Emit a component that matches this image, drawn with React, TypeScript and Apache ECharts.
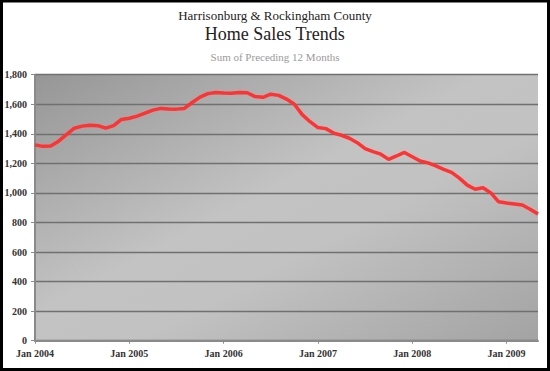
import React, { useEffect, useRef } from "react";
import * as echarts from "echarts";

const months = ["Jan","Feb","Mar","Apr","May","Jun","Jul","Aug","Sep","Oct","Nov","Dec"];
const years = [2004, 2005, 2006, 2007, 2008, 2009];
const categories: string[] = [];
years.forEach((y) => months.forEach((m) => categories.push(`${m} ${y}`)));
const cats = categories.slice(0, 65); // Jan 2004 .. May 2009

const salesValues = [
  1325, 1315, 1318, 1350, 1395, 1438, 1452, 1458, 1455, 1438, 1455, 1497,
  1505, 1520, 1540, 1560, 1572, 1568, 1567, 1572, 1612, 1648, 1672, 1680,
  1676, 1675, 1680, 1678, 1652, 1647, 1668, 1660, 1635, 1600, 1530, 1482,
  1442, 1435, 1405, 1390, 1370, 1340, 1300, 1280, 1262, 1227, 1250, 1274,
  1245, 1216, 1203, 1183, 1160, 1139, 1100, 1053, 1025, 1035, 1000, 940,
  932, 925, 918, 890, 857,
];

const titleMain = "Harrisonburg & Rockingham County";
const titleSub = "Home Sales Trends";
const subtitle = "Sum of Preceding 12 Months";

export default function App() {
  const ref = useRef<HTMLDivElement>(null);
  useEffect(() => {
    document.body.style.margin = "0";
    const chart = echarts.init(ref.current!, null, { renderer: "svg" });
    const font = "'Liberation Serif', 'DejaVu Serif', serif";
    chart.setOption({
      animation: false,
      backgroundColor: "#ffffff",
      graphic: [
        {
          type: "rect",
          shape: { x: 1.5, y: 1, width: 547, height: 368.5 },
          style: { fill: "none", stroke: "#000", lineWidth: 3 },
          z: 100,
        },
        {
          type: "text", left: "center", top: 9,
          style: { text: titleMain, font: `13px ${font}`, fill: "#222" },
        },
        {
          type: "text", left: "center", top: 25,
          style: { text: titleSub, font: `18px ${font}`, fill: "#222" },
        },
        {
          type: "text", left: "center", top: 51,
          style: { text: subtitle, font: `11px ${font}`, fill: "#9a9a9a" },
        },
      ],
      grid: {
        left: 35, right: 12, top: 74.7, bottom: 30.3,
        show: true,
        borderWidth: 0,
        backgroundColor: {
          type: "linear", x: 0, y: 0, x2: 1, y2: 1,
          colorStops: [
            { offset: 0, color: "#969696" },
            { offset: 0.45, color: "#c3c3c3" },
            { offset: 0.6, color: "#c2c2c2" },
            { offset: 1, color: "#a3a3a3" },
          ],
        },
      },
      xAxis: {
        type: "category",
        data: cats,
        boundaryGap: false,
        axisLine: { lineStyle: { color: "#8a8a8a", width: 2 } },
        axisTick: {
          interval: (i: number) => i % 12 === 0,
          length: 3,
          lineStyle: { color: "#8a8a8a" },
        },
        axisLabel: {
          interval: (i: number) => i % 12 === 0,
          fontFamily: font, fontSize: 10, fontWeight: "bold", color: "#333",
          margin: 8,
        },
        splitLine: { show: false },
      },
      yAxis: {
        type: "value",
        min: 0, max: 1800, interval: 200,
        axisLine: { show: true, lineStyle: { color: "#8a8a8a", width: 2 } },
        axisTick: { show: true, length: 4, lineStyle: { color: "#8a8a8a" } },
        axisLabel: {
          fontFamily: font, fontSize: 10, fontWeight: "bold", color: "#333",
          margin: 8,
          formatter: (v: number) => v.toLocaleString("en-US"),
        },
        splitLine: { lineStyle: { color: "#707070", width: 1.3 } },
      },
      series: [
        {
          type: "line",
          data: salesValues,
          symbol: "none",
          lineStyle: { color: "#ff3333", width: 3.5 },
        },
      ],
    });
    return () => chart.dispose();
  }, []);
  return <div ref={ref} style={{ width: 550, height: 371 }} />;
}
